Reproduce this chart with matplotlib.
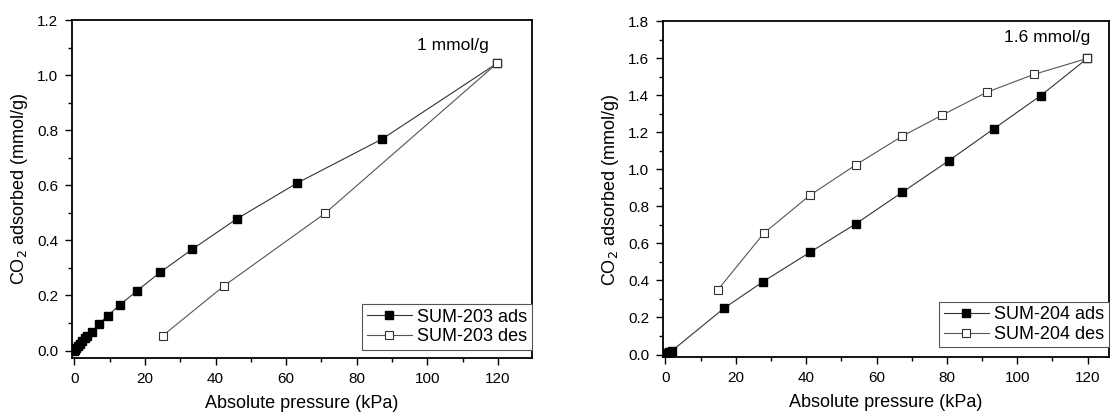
import numpy as np
import matplotlib
matplotlib.use("Agg")
import matplotlib.pyplot as plt
from matplotlib.ticker import MultipleLocator, FormatStrFormatter

plt.rcParams['font.family'] = ['Liberation Sans', 'DejaVu Sans']

# SUM-203 (left panel)
p203_ads = [0.0, 0.2, 0.5, 1.0, 1.5, 2.2, 2.9, 3.7, 5.0, 6.9, 9.45, 12.9, 17.7, 24.3, 33.4, 46.0, 63.1, 87.2, 119.8]
q203_ads = [0.0, 0.003, 0.008, 0.015, 0.025, 0.035, 0.045, 0.053, 0.069, 0.096, 0.127, 0.166, 0.217, 0.284, 0.368, 0.478, 0.608, 0.768, 1.043]
p203_des = [119.8, 71.0, 42.5, 25.0]
q203_des = [1.043, 0.498, 0.236, 0.054]

# SUM-204 (right panel)
p204_ads = [0.0, 0.3, 0.6, 1.0, 1.4, 1.8, 16.6, 27.8, 41.0, 54.2, 67.3, 80.5, 93.4, 106.6, 119.9]
q204_ads = [0.0, 0.004, 0.008, 0.012, 0.016, 0.019, 0.249, 0.394, 0.551, 0.707, 0.876, 1.046, 1.220, 1.397, 1.599]
p204_des = [119.9, 104.8, 91.3, 78.6, 67.3, 54.2, 41.0, 28.0, 14.9]
q204_des = [1.599, 1.513, 1.416, 1.292, 1.179, 1.025, 0.859, 0.655, 0.349]

fig = plt.figure(figsize=(11.11, 4.15), dpi=100)
ax1 = fig.add_axes([0.0651, 0.1366, 0.4135, 0.8152])
ax2 = fig.add_axes([0.597, 0.1386, 0.401, 0.8104])


def style_axis(ax, xmax, ylim):
    ax.set_xlim(-0.6, xmax)
    ax.set_ylim(*ylim)
    ax.xaxis.set_major_locator(MultipleLocator(20))
    ax.xaxis.set_minor_locator(MultipleLocator(10))
    ax.yaxis.set_major_locator(MultipleLocator(0.2))
    ax.yaxis.set_minor_locator(MultipleLocator(0.1))
    ax.yaxis.set_major_formatter(FormatStrFormatter('%.1f'))
    ax.tick_params(which='both', direction='out', top=False, right=False,
                   labelsize=11, width=1.0, pad=5)
    ax.tick_params(which='major', length=5)
    ax.tick_params(which='minor', length=3)
    for s in ax.spines.values():
        s.set_linewidth(1.3)
    ax.set_xlabel('Absolute pressure (kPa)', fontsize=13, labelpad=6)
    ax.set_ylabel(r'CO$_2$ adsorbed (mmol/g)', fontsize=13, labelpad=5)


def add_legend(ax, y0):
    leg = ax.legend(loc='lower right', bbox_to_anchor=(1.0, y0), borderaxespad=0,
                    fontsize=13, fancybox=False, edgecolor='#555555', framealpha=1,
                    handlelength=2.5, handletextpad=0.3, borderpad=0.25,
                    labelspacing=0.15)
    leg.get_frame().set_linewidth(0.8)


ax1.plot(p203_ads, q203_ads, color='#333333', lw=0.8, marker='s', ms=5.8,
         mfc='black', mec='black', label='SUM-203 ads')
ax1.plot(p203_des, q203_des, color='#555555', lw=0.8, marker='s', ms=6,
         mfc='white', mec='#333333', mew=0.8, label='SUM-203 des')
style_axis(ax1, 129.6, (-0.028, 1.2))
ax1.text(107.2, 1.109, '1 mmol/g', fontsize=12.5, ha='center', va='center')
add_legend(ax1, 0.025)

ax2.plot(p204_ads, q204_ads, color='#333333', lw=0.8, marker='s', ms=5.8,
         mfc='black', mec='black', label='SUM-204 ads')
ax2.plot(p204_des, q204_des, color='#555555', lw=0.8, marker='s', ms=6,
         mfc='white', mec='#333333', mew=0.8, label='SUM-204 des')
style_axis(ax2, 126, (-0.016, 1.8))
ax2.text(108.4, 1.71, '1.6 mmol/g', fontsize=12.5, ha='center', va='center')
add_legend(ax2, 0.03)

fig.savefig('out.png', dpi=100)
